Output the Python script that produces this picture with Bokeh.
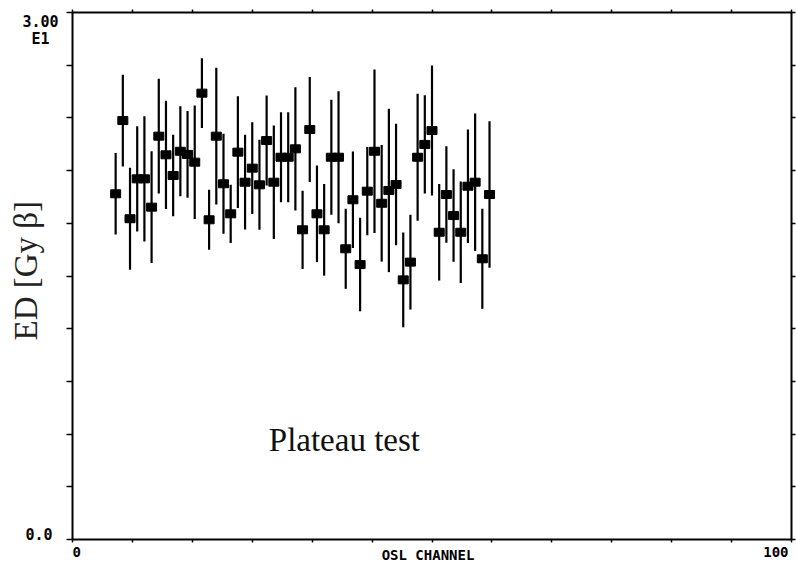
from bokeh.plotting import figure
from bokeh.models import LinearAxis, FixedTicker, Label, ColumnDataSource
from bokeh.embed import file_html
from bokeh.resources import INLINE

# ---- data ----
channels = list(range(6, 59))
ed = [19.68, 23.85, 18.26, 20.53, 20.53, 18.92, 22.96, 21.90, 20.72, 22.10,
      21.92, 21.48, 25.41, 18.20, 22.96, 20.25, 18.54, 22.05, 20.34, 21.14,
      20.19, 22.71, 20.34, 21.76, 21.76, 22.24, 17.63, 23.34, 18.54, 17.63,
      21.76, 21.76, 16.55, 19.34, 15.65, 19.83, 22.10, 19.14, 19.87, 20.21,
      14.78, 15.79, 21.76, 22.49, 23.28, 17.49, 19.64, 18.44, 17.49, 20.11,
      20.34, 15.98, 19.64]
ed_err = [2.32, 2.61, 2.90, 3.00, 3.56, 3.18, 3.27, 3.08, 2.32, 2.56,
          2.47, 3.23, 1.99, 1.71, 3.89, 2.85, 1.66, 3.18, 2.70, 2.61,
          2.56, 2.56, 3.23, 2.56, 2.56, 3.51, 2.23, 2.99, 2.75, 2.61,
          3.27, 3.76, 2.28, 2.75, 2.66, 2.51, 4.65, 3.32, 4.65, 3.46,
          2.70, 2.70, 3.62, 2.80, 3.70, 2.75, 2.75, 2.63, 2.89, 3.23,
          3.91, 2.85, 4.17]

x_tick_values = [0, 50, 100]
x_tick_labels = ["0", "OSL CHANNEL", "100"]
y_tick_values = [0, 30]
y_tick_labels = ["0.0", "3.00\nE1"]
y_title = "ED [Gy β]"
note = "Plateau test"

X_MIN, X_MAX = 0, 100
Y_MIN, Y_MAX = 0, 30

src = ColumnDataSource(dict(
    x=channels, y=ed,
    lo=[v - e for v, e in zip(ed, ed_err)],
    hi=[v + e for v, e in zip(ed, ed_err)],
))

# the frame spans the whole canvas; the axes sit at fixed data locations
W, H = 796, 562
L, R, T, B = 72, 791, 12, 539          # pixel box of the axes
sx = (R - L) / (X_MAX - X_MIN)
sy = (B - T) / (Y_MAX - Y_MIN)
x_range = (X_MIN - L / sx, X_MAX + (W - R) / sx)
y_range = (Y_MIN - (H - B) / sy, Y_MAX + T / sy)

p = figure(width=W, height=H, x_range=x_range, y_range=y_range,
           output_backend="svg", toolbar_location=None,
           x_axis_location=None, y_axis_location=None,
           min_border=0, min_border_left=0, min_border_right=0,
           min_border_top=0, min_border_bottom=0,
           background_fill_color="white", border_fill_color="white")
p.grid.visible = False
p.outline_line_color = None

xt = [X_MAX * i / 12 for i in range(13)]
yt = list(range(Y_MIN, Y_MAX + 1, 3))


def mk_axis(ticks, out, loc, bounds):
    return LinearAxis(ticker=FixedTicker(ticks=ticks, minor_ticks=[]),
                      fixed_location=loc, bounds=bounds,
                      major_tick_out=out, major_tick_in=0,
                      minor_tick_out=0, minor_tick_in=0,
                      major_label_text_color=None,
                      axis_line_color="black", axis_line_width=2,
                      major_tick_line_color="black", major_tick_line_width=1.5)


p.add_layout(mk_axis(yt, 6, X_MIN, (Y_MIN, Y_MAX)), "left")
p.add_layout(mk_axis(yt, 4, X_MAX, (Y_MIN, Y_MAX)), "right")
p.add_layout(mk_axis(xt, 3, Y_MIN, (X_MIN, X_MAX)), "below")
p.add_layout(mk_axis(xt, 3, Y_MAX, (X_MIN, X_MAX)), "above")

# error bars and markers
p.segment(x0="x", y0="lo", x1="x", y1="hi", source=src,
          line_color="black", line_width=2.2)
p.rect(x="x", y="y", width=10, height=8, width_units="screen",
       height_units="screen", source=src, fill_color="black",
       line_color="black")

mono = "DejaVu Sans Mono"

# y tick labels
p.add_layout(Label(x=X_MIN, y=y_tick_values[0], text=y_tick_labels[0],
                   x_offset=-20, text_align="right", text_baseline="bottom",
                   text_font=mono, text_font_style="bold",
                   text_font_size="15px", text_color="black"))
p.add_layout(Label(x=X_MIN, y=y_tick_values[1], text=y_tick_labels[1],
                   x_offset=-32, text_align="center", text_baseline="top",
                   text_font=mono, text_font_style="bold",
                   text_font_size="15px", text_color="black",
                   text_line_height=0.95))

# x tick labels
aligns = ["left", "center", "right"]
xoffs = [0, -4, -3]
for xv, lab, al, xo in zip(x_tick_values, x_tick_labels, aligns, xoffs):
    p.add_layout(Label(x=xv, y=Y_MIN - 0.42, text=lab, x_offset=xo,
                       text_align=al, text_baseline="top",
                       text_font=mono, text_font_style="bold",
                       text_font_size="14px", text_color="black"))

# axis title and note
p.add_layout(Label(x=X_MIN, y=15.3, text=y_title, x_offset=-47,
                   angle=90, angle_units="deg",
                   text_align="center", text_baseline="middle",
                   text_font="Liberation Serif", text_font_size="33px",
                   text_color="#222222"))
p.add_layout(Label(x=27.3, y=5.64, text=note,
                   text_align="left", text_baseline="middle",
                   text_font="Liberation Serif", text_font_size="33px",
                   text_color="#111111"))

open("out.html", "w").write(file_html(p, INLINE))
